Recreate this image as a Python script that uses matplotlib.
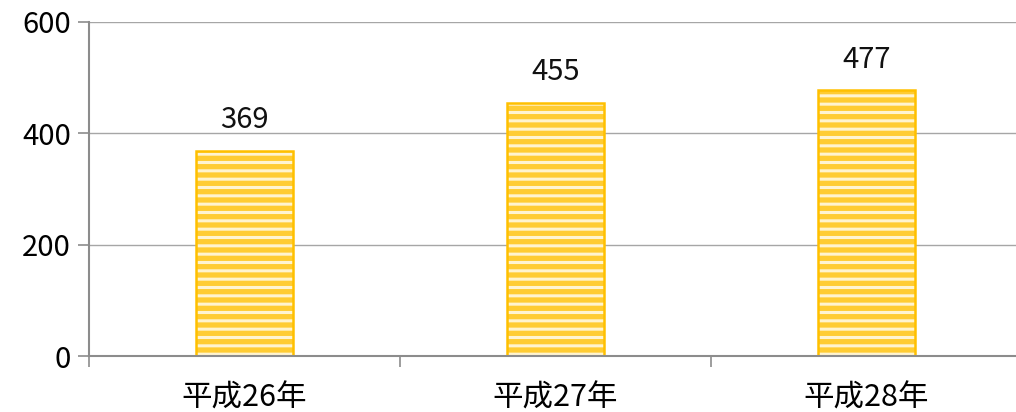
import matplotlib
matplotlib.use('Agg')
import matplotlib.pyplot as plt
import numpy as np

categories = ['平成26年', '平成27年', '平成28年']
values = [369, 455, 477]
y_ticks = [0, 200, 400, 600]

plt.rcParams['font.family'] = ['Noto Sans CJK JP', 'DejaVu Sans']
plt.rcParams['hatch.linewidth'] = 2.2

grey = '#8c8c8c'
fig = plt.figure(figsize=(10.16, 4.12), dpi=100)
ax = fig.add_axes([89 / 1016, 56 / 412, 933 / 1016, 334 / 412])

x = np.arange(len(categories))
# striped fill: gold face with white hatch, then the gold outline on top
ax.bar(x, values, width=0.31, color='#ffcc33', edgecolor='#fff4d0',
       hatch='--', linewidth=0, zorder=3)
ax.bar(x, values, width=0.31, fill=False, edgecolor='#ffc000',
       linewidth=1.8, zorder=4)

for xi, v in zip(x, values):
    ax.annotate(str(v), (xi, v), xytext=(0, 11), textcoords='offset points',
                ha='center', va='bottom', fontsize=21, color='#111111')

ax.set_xlim(-0.5, 2.5)
ax.set_ylim(0, 600)
ax.set_yticks(y_ticks)
ax.set_xticks(x)
ax.set_xticklabels(categories, fontsize=22)
ax.set_xticks([-0.5, 0.5, 1.5, 2.5], minor=True)
ax.tick_params(axis='x', which='major', length=0, pad=19)
ax.tick_params(axis='x', which='minor', length=8, color=grey, width=1.2)
ax.tick_params(axis='y', length=8, color=grey, width=1.2, labelsize=21, pad=5)
ax.grid(axis='y', color='#a6a6a6', linewidth=1.0, zorder=0)

for s in ['top', 'right']:
    ax.spines[s].set_visible(False)
for s in ['left', 'bottom']:
    ax.spines[s].set_color(grey)
    ax.spines[s].set_linewidth(1.5)
ax.spines['bottom'].set_zorder(5)

fig.savefig('out.png', dpi=100)
